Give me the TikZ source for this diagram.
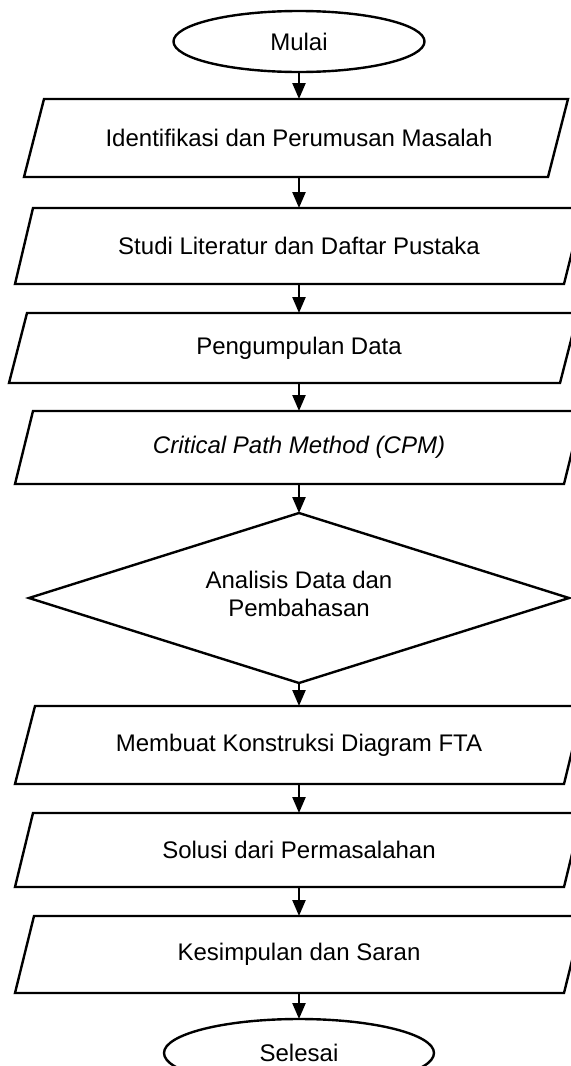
\documentclass[tikz,border=0pt]{standalone}
\usepackage{fontspec}
\setmainfont{Liberation Sans}
\usetikzlibrary{shapes.geometric,arrows.meta}
\begin{document}
\begin{tikzpicture}[x=0.5pt,y=-0.5pt,
  every node/.style={font=\fontsize{12}{14}\selectfont},
  shp/.style={draw=black,line width=1.2pt,line join=miter},
  txt/.style={inner sep=0pt,outer sep=0pt,minimum width=10pt},
  arr/.style={draw=black,line width=1.2pt,-{Triangle[width=6.5pt,length=8pt]}},
]
\useasboundingbox (0,0) rectangle (571,1066);
\clip (0,0) rectangle (571,1066);
\fill[white] (0,0) rectangle (571,1066);

% terminals
\node[ellipse,shp,minimum width=125.5pt,minimum height=30.5pt,inner sep=0pt,outer sep=0pt] (start) at (299,41.5) {Mulai};
\node[ellipse,shp,minimum width=135pt,minimum height=34pt,inner sep=0pt,outer sep=0pt] (end) at (299,1053) {Selesai};

% process texts (node height = box height)
\node[txt,minimum height=39pt]   (b1) at (299,138)   {Identifikasi dan Perumusan Masalah};
\node[txt,minimum height=38pt]   (b2) at (299,246)   {Studi Literatur dan Daftar Pustaka};
\node[txt,minimum height=35pt]   (b3) at (299,348)   {Pengumpulan Data};
\node[txt,minimum height=36.5pt] (b4) at (299,447.5) {\itshape Critical Path Method (CPM)};
\node[txt,minimum height=39pt]   (b5) at (299,745)   {Membuat Konstruksi Diagram FTA};
\node[txt,minimum height=37pt]   (b6) at (299,850)   {Solusi dari Permasalahan};
\node[txt,minimum height=38.5pt] (b7) at (299,954.5) {Kesimpulan dan Saran};

% decision
\node[diamond,shp,minimum width=270pt,minimum height=85pt,inner sep=0pt,outer sep=0pt,shape aspect=3.2] (dec) at (299,598) {};
\node[align=center,inner sep=0pt] (dtxt) at (299,594) {Analisis Data dan\\Pembahasan};

% parallelogram outlines
\draw[shp] (24,177) -- (548,177) -- (568,99) -- (44,99) -- cycle;
\draw[shp] (15,284) -- (564,284) -- (583,208) -- (33,208) -- cycle;
\draw[shp] (9,383) -- (560,383) -- (578,313) -- (27,313) -- cycle;
\draw[shp] (15,484) -- (564,484) -- (582,411) -- (33,411) -- cycle;
\draw[shp] (15,784) -- (564,784) -- (583,706) -- (35,706) -- cycle;
\draw[shp] (15,887) -- (564,887) -- (582,813) -- (33,813) -- cycle;
\draw[shp] (15,993) -- (564,993) -- (583,916) -- (34,916) -- cycle;

% connectors
\draw[arr] (start.south) -- (b1.north);
\draw[arr] (b1.south) -- (b2.north);
\draw[arr] (b2.south) -- (b3.north);
\draw[arr] (b3.south) -- (b4.north);
\draw[arr] (b4.south) -- (dec.north);
\draw[arr] (dec.south) -- (b5.north);
\draw[arr] (b5.south) -- (b6.north);
\draw[arr] (b6.south) -- (b7.north);
\draw[arr] (b7.south) -- (end.north);
\end{tikzpicture}
\end{document}
